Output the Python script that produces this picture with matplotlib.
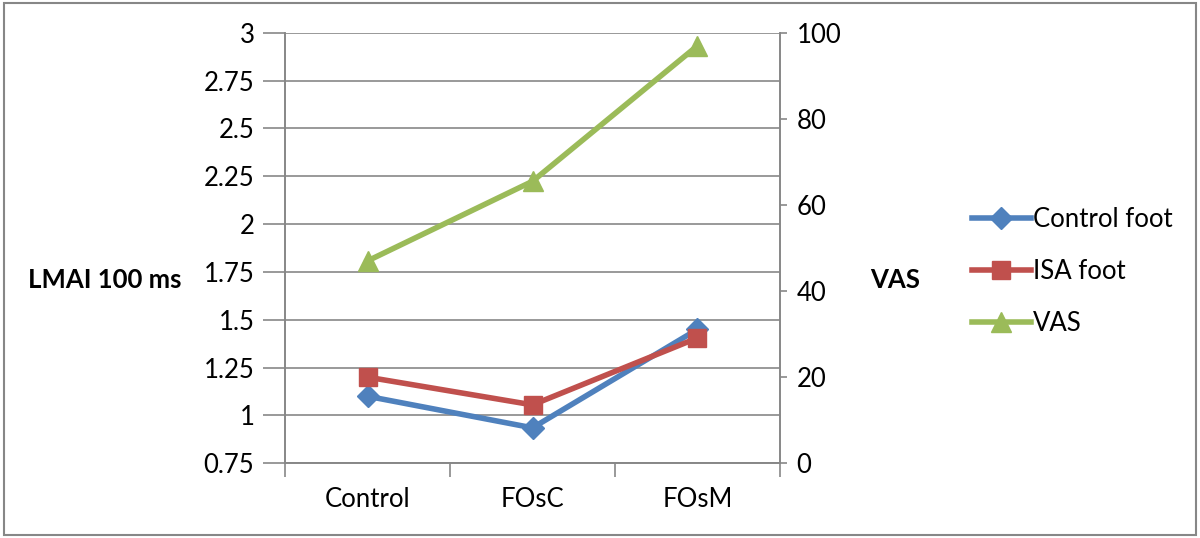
import matplotlib.pyplot as plt
from matplotlib.patches import Rectangle

plt.rcParams['font.family'] = ['Lato', 'DejaVu Sans']

categories = ['Control', 'FOsC', 'FOsM']
control_foot = [1.10, 0.935, 1.45]
isa_foot = [1.20, 1.055, 1.405]
vas = [47, 65.5, 97]

left_ticks = [0.75, 1, 1.25, 1.5, 1.75, 2, 2.25, 2.5, 2.75, 3]
left_labels = ['0.75', '1', '1.25', '1.5', '1.75', '2', '2.25', '2.5', '2.75', '3']
right_ticks = [0, 20, 40, 60, 80, 100]

blue = '#4F81BD'
red = '#C0504D'
green = '#9BBB59'
grey = '#878787'
fs = 18.5

fig = plt.figure(figsize=(12, 5.38), dpi=100)
ax = fig.add_axes([0.2375, 0.139, 0.4125, 0.8])
ax2 = ax.twinx()

x = list(range(len(categories)))

# Left axis series
l1, = ax.plot(x, control_foot, '-D', color=blue, lw=4, ms=11, label='Control foot', zorder=4)
l2, = ax.plot(x, isa_foot, '-s', color=red, lw=4, ms=13, label='ISA foot', zorder=4)
# Right axis series
l3, = ax2.plot(x, vas, '-^', color=green, lw=4, ms=15, label='VAS', zorder=4)

ax.set_xlim(-0.5, 2.5)
ax.set_ylim(0.75, 3)
ax2.set_ylim(0, 100)

ax.set_yticks(left_ticks)
ax.set_yticklabels(left_labels)
ax2.set_yticks(right_ticks)

ax.set_xticks(x)
ax.set_xticklabels(categories)
ax.tick_params(axis='x', length=0, pad=17, labelsize=fs)
ax.set_xticks([-0.5, 0.5, 1.5, 2.5], minor=True)
ax.tick_params(axis='x', which='minor', length=10, width=1.2, color=grey, direction='out')

ax.tick_params(axis='y', length=16, width=1.2, color=grey, labelsize=fs, pad=6)
ax2.tick_params(axis='y', length=5, width=1.2, color=grey, labelsize=fs, pad=7)

ax.grid(axis='y', color=grey, lw=1.2)
ax.set_axisbelow(True)

for a in (ax, ax2):
    a.spines['top'].set_visible(False)
    for s in ('left', 'right', 'bottom'):
        a.spines[s].set_color(grey)
        a.spines[s].set_linewidth(1.2)

fig.text(0.0875, 0.48, 'LMAI 100 ms', fontsize=fs, fontweight='bold', ha='center', va='center')
fig.text(0.746, 0.48, 'VAS', fontsize=fs, fontweight='bold', ha='center', va='center')

fig.legend(handles=[l1, l2, l3], loc='center left', bbox_to_anchor=(0.799, 0.495),
           frameon=False, fontsize=fs, handlelength=2.3, handletextpad=0.1,
           labelspacing=1.05, borderpad=0)

fig.patches.append(Rectangle((0.003, 0.005), 0.994, 0.99, transform=fig.transFigure,
                             fill=False, edgecolor=grey, lw=1.5))

fig.savefig('out.png', dpi=100)
